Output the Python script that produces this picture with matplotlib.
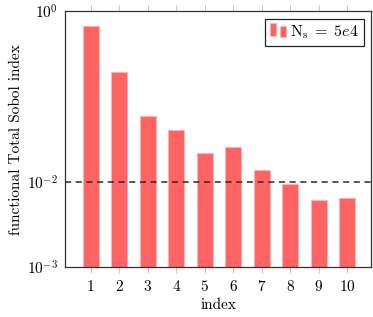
import numpy as np
import matplotlib
matplotlib.use('Agg')
import matplotlib.pyplot as plt
from matplotlib.legend_handler import HandlerBase
from matplotlib.patches import Rectangle

plt.rcParams['font.family'] = 'serif'
plt.rcParams['font.serif'] = ['cmr10', 'DejaVu Serif']
plt.rcParams['mathtext.fontset'] = 'cm'
plt.rcParams['axes.formatter.use_mathtext'] = True
plt.rcParams['font.size'] = 11

index = [1, 2, 3, 4, 5, 6, 7, 8, 9, 10]
sobol_total = [0.68, 0.193, 0.0584, 0.040, 0.0218, 0.0255, 0.0137, 0.0095, 0.0061, 0.0064]
threshold = 1e-2
label = r'$\mathrm{N_s}\;=\;5e4$'

bar_color = '#ff6464'
edge_color = '#ffb4b4'


class TwoBarHandler(HandlerBase):
    def create_artists(self, legend, orig_handle, xdescent, ydescent,
                       width, height, fontsize, trans):
        w = width * 0.38
        h = height * 1.15
        y0 = -ydescent - 0.05 * height
        bars = [
            Rectangle((-xdescent, y0 + 0.1 * h), w, h, facecolor=bar_color,
                      edgecolor=edge_color, linewidth=0.5, transform=trans),
            Rectangle((-xdescent + width * 0.6, y0), w, h * 0.85, facecolor=bar_color,
                      edgecolor=edge_color, linewidth=0.5, transform=trans),
        ]
        return bars


fig = plt.figure(figsize=(3.73, 3.17), dpi=100)
ax = fig.add_axes([0.175, 0.158, 0.820, 0.806])

bars = ax.bar(index, sobol_total, width=0.56, color=bar_color,
              edgecolor=edge_color, linewidth=0.6, label=label, zorder=2)
ax.axhline(threshold, color='#2a2a2a', linestyle=(0, (4, 3)), linewidth=1.1, zorder=3)

ax.set_yscale('log')
ax.set_ylim(1e-3, 1e0)
ax.set_xlim(0.11, 10.83)
ax.set_yticks([1e-3, 1e-2, 1e0])
ax.set_yticklabels([r'$10^{-3}$', r'$10^{-2}$', r'$10^{0}$'])
ax.minorticks_off()
ax.set_xticks(index)
ax.tick_params(axis='y', length=0, pad=5)
ax.tick_params(axis='x', length=4, color='#c8c8c8', width=0.8, top=True, pad=5)

for s in ax.spines.values():
    s.set_color('#333333')
    s.set_linewidth(0.9)

ax.set_xlabel('index', labelpad=3)
ax.set_ylabel('functional Total Sobol index', labelpad=3)

leg = ax.legend(handles=[bars], handler_map={type(bars): TwoBarHandler()},
                loc='upper right', fancybox=False, framealpha=1,
                edgecolor='#222222', handlelength=1.0, handletextpad=0.25,
                borderpad=0.3, fontsize=11.5, borderaxespad=0.45,
                bbox_to_anchor=(1.0, 1.0))
leg.get_frame().set_linewidth(0.9)

fig.savefig('out.png', dpi=100)
